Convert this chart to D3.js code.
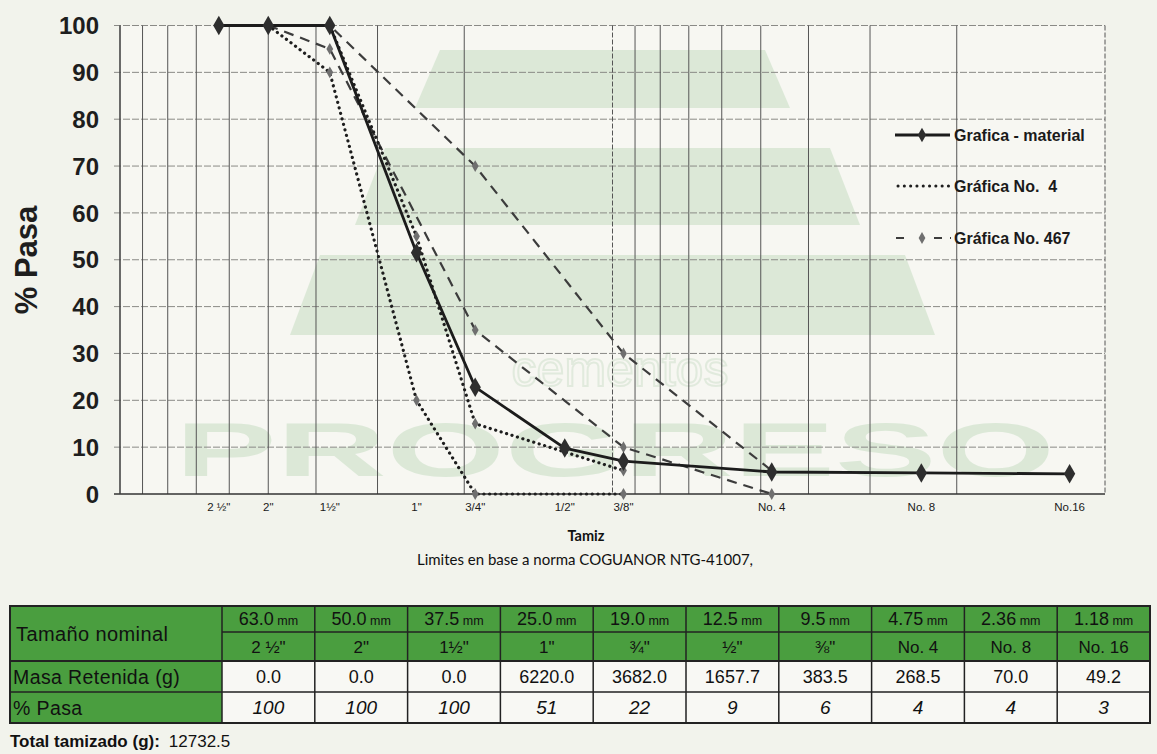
<!DOCTYPE html>
<html><head><meta charset="utf-8">
<script src="https://cdn.jsdelivr.net/npm/d3@7"></script>
<style>
body{margin:0;background:#f2f3ec;}
svg{display:block;}
</style></head><body>
<svg id="chart" width="1157" height="754"></svg>
<script>
// ---------- DATA ----------
const sieveMM = [63, 50, 37.5, 25, 19, 12.5, 9.5, 4.75, 2.36, 1.18];
const sieveLabels = ['2 ½"', '2"', '1½"', '1"', '3/4"', '1/2"', '3/8"', 'No. 4', 'No. 8', 'No.16'];
const materialPass = [100, 100, 100, 51.5, 22.8, 9.8, 7.0, 4.7, 4.5, 4.3];
const no4Sizes = [50, 37.5, 25, 19, 9.5];
const no4Upper = [100, 100, 55, 15, 5];
const no4Lower = [100, 90, 20, 0, 0];
const no467Sizes = [50, 37.5, 19, 9.5, 4.75];
const no467Upper = [100, 100, 70, 30, 5];
const no467Lower = [100, 95, 35, 10, 0];
const yTicks = [0, 10, 20, 30, 40, 50, 60, 70, 80, 90, 100];
const legendLabels = ['Grafica - material', 'Gráfica No.\u00A0\u00A04', 'Gráfica No. 467'];
const tableMM = ['63.0', '50.0', '37.5', '25.0', '19.0', '12.5', '9.5', '4.75', '2.36', '1.18'];
const tableInch = ['2 ½"', '2"', '1½"', '1"', '¾"', '½"', '⅜"', 'No. 4', 'No. 8', 'No. 16'];
const masaRetenida = ['0.0', '0.0', '0.0', '6220.0', '3682.0', '1657.7', '383.5', '268.5', '70.0', '49.2'];
const pasaTable = [100, 100, 100, 51, 22, 9, 6, 4, 4, 3];
const totalTamizado = '12732.5';

// ---------- SETUP ----------
const svg = d3.select('#chart');
const W = 1157, H = 754;
const plot = {left: 120, right: 1105, top: 25.5, bottom: 494};
const x = d3.scaleLog().domain([100, 1]).range([plot.left, plot.right]);
const y = d3.scaleLinear().domain([0, 100]).range([plot.bottom, plot.top]);
const FONT = 'Arial, "Liberation Sans", Helvetica, sans-serif';

svg.append('rect').attr('width', W).attr('height', H).attr('fill', '#f2f3ec');
svg.append('rect').attr('x', plot.left).attr('y', plot.top)
  .attr('width', plot.right - plot.left).attr('height', plot.bottom - plot.top)
  .attr('fill', '#f7f7f2');

// faint watermark
const wm = svg.append('g').attr('opacity', 0.17).attr('fill', '#5aa55a');
wm.append('path').attr('d', 'M440,50 L765,50 L790,108 L415,108 Z');
wm.append('path').attr('d', 'M385,148 L830,148 L860,225 L355,225 Z');
wm.append('path').attr('d', 'M320,255 L905,255 L935,335 L290,335 Z');
wm.append('text').attr('x', 620).attr('y', 386).attr('text-anchor', 'middle')
  .attr('font-family', FONT).attr('font-size', 50).attr('fill', 'none')
  .attr('stroke', '#7ab07a').attr('stroke-width', 2).text('cementos');
wm.append('text').attr('x', 615).attr('y', 476).attr('text-anchor', 'middle')
  .attr('font-family', FONT).attr('font-weight', 'bold').attr('font-size', 76)
  .attr('textLength', 880).attr('lengthAdjust', 'spacingAndGlyphs').text('PROGRESO');

// horizontal gridlines
svg.append('g').selectAll('line').data(yTicks.filter(d => d > 0)).join('line')
  .attr('x1', plot.left - 6).attr('x2', plot.right)
  .attr('y1', d => y(d)).attr('y2', d => y(d))
  .attr('stroke', '#8a8a86').attr('stroke-width', 1).attr('stroke-dasharray', '7,2');

// vertical gridlines from log ticks
svg.append('g').selectAll('line').data(x.ticks()).join('line')
  .attr('x1', d => x(d)).attr('x2', d => x(d))
  .attr('y1', plot.top).attr('y2', plot.bottom)
  .attr('stroke', '#555').attr('stroke-width', 1)
  .attr('stroke-dasharray', d => (d === 10 || d === 1) ? '5,2' : null);

// axes lines
svg.append('line').attr('x1', plot.left - 6).attr('x2', plot.right)
  .attr('y1', plot.bottom).attr('y2', plot.bottom).attr('stroke', '#333').attr('stroke-width', 1.6);
svg.append('line').attr('x1', plot.left).attr('x2', plot.left)
  .attr('y1', plot.top).attr('y2', plot.bottom).attr('stroke', '#444').attr('stroke-width', 1.2);

// y labels
svg.append('g').selectAll('text').data(yTicks).join('text')
  .attr('x', 99).attr('y', d => y(d)).attr('dy', '0.36em')
  .attr('text-anchor', 'end').attr('font-family', FONT).attr('font-weight', 'bold')
  .attr('font-size', 24).attr('fill', '#1e1e1e').text(d => d);

svg.append('text').attr('transform', 'translate(37,260) rotate(-90)')
  .attr('text-anchor', 'middle').attr('font-family', FONT).attr('font-weight', 'bold')
  .attr('font-size', 31).attr('fill', '#1e1e1e').text('% Pasa');

// x labels
svg.append('g').selectAll('text').data(sieveMM).join('text')
  .attr('x', d => x(d)).attr('y', 511)
  .attr('text-anchor', 'middle').attr('font-family', FONT)
  .attr('font-size', 11.5).attr('fill', '#1a1a1a').text((d, i) => sieveLabels[i]);

svg.append('text').attr('x', 586).attr('y', 541).attr('text-anchor', 'middle')
  .attr('font-family', 'Lato, "Open Sans", sans-serif').attr('font-weight', 'bold')
  .attr('font-size', 14.5).attr('fill', '#111').text('Tamiz');
svg.append('text').attr('x', 585).attr('y', 565).attr('text-anchor', 'middle')
  .attr('font-family', 'Lato, "Open Sans", sans-serif')
  .attr('font-size', 15).attr('fill', '#111').text('Limites en base a norma COGUANOR NTG-41007,');

// ---------- LINES ----------
const line = d3.line().x(d => x(d[0])).y(d => y(d[1]));
const zip = (a, b) => a.map((v, i) => [v, b[i]]);
const diamond = d3.symbol().type(d3.symbolDiamond);

function limitSeries(sizes, vals, dash, width, color) {
  const pts = zip(sizes, vals);
  svg.append('path').datum(pts).attr('d', line).attr('fill', 'none')
    .attr('stroke', color).attr('stroke-width', width).attr('stroke-dasharray', dash)
    .attr('stroke-linecap', dash.startsWith('0') ? 'round' : 'butt');
  svg.append('g').selectAll('path').data(pts).join('path')
    .attr('d', diamond.size(40)).attr('transform', d => `translate(${x(d[0])},${y(d[1])})`)
    .attr('fill', '#6f6f6f');
}
limitSeries(no467Sizes, no467Upper, '10,7', 2.2, '#3c3c3c');
limitSeries(no467Sizes, no467Lower, '10,7', 2.2, '#3c3c3c');
limitSeries(no4Sizes, no4Upper, '0.1,5.6', 3.2, '#1e1e1e');
limitSeries(no4Sizes, no4Lower, '0.1,5.6', 3.2, '#1e1e1e');

const matPts = zip(sieveMM, materialPass);
svg.append('path').datum(matPts).attr('d', line).attr('fill', 'none')
  .attr('stroke', '#1c1c1c').attr('stroke-width', 2.8);
svg.append('g').selectAll('path').data(matPts).join('path')
  .attr('d', diamond.size(110)).attr('transform', d => `translate(${x(d[0])},${y(d[1])})`)
  .attr('fill', '#2e2e2e');

// ---------- LEGEND ----------
const lg = svg.append('g').attr('font-family', FONT).attr('font-weight', 'bold')
  .attr('font-size', 16).attr('fill', '#1a1a1a');
const legY = [135, 186, 238];
lg.append('line').attr('x1', 895).attr('x2', 950).attr('y1', legY[0]).attr('y2', legY[0])
  .attr('stroke', '#1c1c1c').attr('stroke-width', 2.8);
lg.append('path').attr('d', diamond.size(60)).attr('transform', `translate(922,${legY[0]})`).attr('fill', '#2e2e2e');
lg.append('line').attr('x1', 898).attr('x2', 950).attr('y1', legY[1]).attr('y2', legY[1])
  .attr('stroke', '#1e1e1e').attr('stroke-width', 3).attr('stroke-dasharray', '0.1,6.2').attr('stroke-linecap', 'round');
lg.append('line').attr('x1', 896).attr('x2', 951).attr('y1', legY[2]).attr('y2', legY[2])
  .attr('stroke', '#3c3c3c').attr('stroke-width', 2.2).attr('stroke-dasharray', '8,30,8');
lg.append('path').attr('d', diamond.size(40)).attr('transform', `translate(922,${legY[2]})`).attr('fill', '#6f6f6f');
lg.selectAll('text').data(legendLabels).join('text')
  .attr('x', 954).attr('y', (d, i) => legY[i]).attr('dy', '0.36em').text(d => d);

// ---------- TABLE ----------
const tLeft = 10, tLabelRight = 222, tRight = 1150;
const rowsY = [606, 632, 661, 692, 723];
const col = d3.scaleBand().domain(d3.range(tableMM.length)).range([tLabelRight, tRight]);
const GREEN = '#4a9e3f';
const tb = svg.append('g').attr('font-family', FONT).attr('fill', '#111');

tb.append('rect').attr('x', tLeft).attr('y', rowsY[0]).attr('width', tRight - tLeft)
  .attr('height', rowsY[2] - rowsY[0]).attr('fill', GREEN);
tb.append('rect').attr('x', tLeft).attr('y', rowsY[2]).attr('width', tLabelRight - tLeft)
  .attr('height', rowsY[4] - rowsY[2]).attr('fill', GREEN);
tb.append('rect').attr('x', tLabelRight).attr('y', rowsY[2]).attr('width', tRight - tLabelRight)
  .attr('height', rowsY[4] - rowsY[2]).attr('fill', '#f8f8f4');

const bcol = '#222';
tb.append('rect').attr('x', tLeft).attr('y', rowsY[0]).attr('width', tRight - tLeft)
  .attr('height', rowsY[4] - rowsY[0]).attr('fill', 'none').attr('stroke', bcol).attr('stroke-width', 2);
[1, 2, 3].forEach(r => {
  tb.append('line').attr('x1', r === 1 ? tLabelRight : tLeft).attr('x2', tRight)
    .attr('y1', rowsY[r]).attr('y2', rowsY[r]).attr('stroke', bcol).attr('stroke-width', r === 2 ? 2 : 1.3);
});
tb.selectAll('line.v').data(d3.range(tableMM.length)).join('line')
  .attr('x1', i => col(i)).attr('x2', i => col(i)).attr('y1', rowsY[0]).attr('y2', rowsY[4])
  .attr('stroke', bcol).attr('stroke-width', 1.5);

const cx = i => col(i) + col.bandwidth() / 2;
const midY = r => (rowsY[r] + rowsY[r + 1]) / 2;

tb.append('text').attr('x', 16).attr('y', (rowsY[0] + rowsY[2]) / 2).attr('dy', '0.36em')
  .attr('font-size', 20).attr('letter-spacing', 0.4).text('Tamaño nominal');
tb.append('text').attr('x', 13).attr('y', midY(2)).attr('dy', '0.36em')
  .attr('font-size', 19.5).attr('letter-spacing', 0.4).text('Masa Retenida (g)');
tb.append('text').attr('x', 13).attr('y', midY(3)).attr('dy', '0.36em')
  .attr('font-size', 19.5).attr('letter-spacing', 0.4).text('% Pasa');

const mmT = tb.selectAll('text.mm').data(tableMM).join('text')
  .attr('x', (d, i) => cx(i)).attr('y', midY(0)).attr('dy', '0.36em')
  .attr('text-anchor', 'middle').attr('font-size', 18);
mmT.append('tspan').text(d => d);
mmT.append('tspan').attr('font-size', 12.5).text(' mm');
tb.selectAll('text.in').data(tableInch).join('text')
  .attr('x', (d, i) => cx(i)).attr('y', midY(1)).attr('dy', '0.36em')
  .attr('text-anchor', 'middle').attr('font-size', 17).text(d => d);
tb.selectAll('text.ma').data(masaRetenida).join('text')
  .attr('x', (d, i) => cx(i)).attr('y', midY(2)).attr('dy', '0.36em')
  .attr('text-anchor', 'middle').attr('font-size', 18).text(d => d);
tb.selectAll('text.pa').data(pasaTable).join('text')
  .attr('x', (d, i) => cx(i)).attr('y', midY(3)).attr('dy', '0.36em')
  .attr('text-anchor', 'middle').attr('font-size', 19).attr('font-style', 'italic').text(d => d);

const tot = svg.append('text').attr('x', 10).attr('y', 747).attr('font-family', FONT)
  .attr('font-size', 17).attr('fill', '#111');
tot.append('tspan').attr('font-weight', 'bold').text('Total tamizado (g):');
tot.append('tspan').attr('dx', 9).text(totalTamizado);
</script>
</body></html>
